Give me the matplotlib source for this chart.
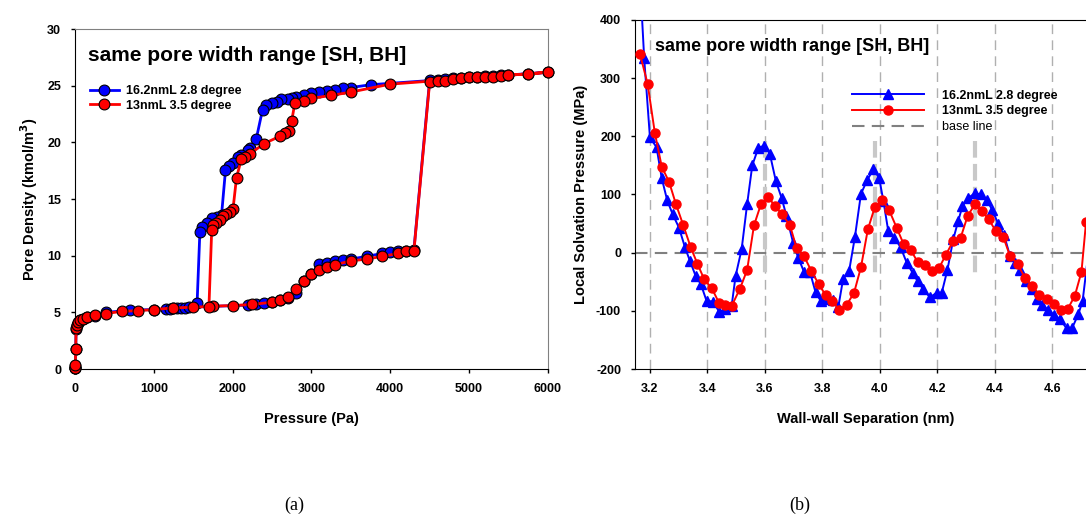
import matplotlib.pyplot as plt
import numpy as np

plt.rcParams['font.family'] = ['Liberation Sans', 'DejaVu Sans']
plt.rcParams['axes.unicode_minus'] = False

# ---------- (a) isotherm data: adsorption then desorption ----------
p_blue = [0, 2, 5, 10, 15, 25, 40, 60, 100, 150, 250, 400, 700, 1000, 1150, 1200,
          1250, 1300, 1350, 1400, 1450, 2200, 2300, 2400, 2500, 2600, 2700, 2800,
          2900, 3000, 3100, 3200, 3300, 3400, 3500, 3700, 3900, 4000, 4100, 4200,
          4300, 4500, 4600, 4700, 4800, 4900, 5000, 5100, 5200, 5300, 5400, 5500,
          5750, 6000,
          3750, 3500, 3400, 3300, 3200, 3100, 3000, 2900, 2800, 2750, 2700, 2620,
          2560, 2500, 2430, 2380, 2300, 2220, 2190, 2110, 2070, 2000, 1960, 1910,
          1860, 1800, 1740, 1670, 1610, 1585, 1550]
rho_blue = [0.05, 0.1, 0.3, 1.8, 3.5, 3.9, 4.1, 4.3, 4.45, 4.55, 4.7, 5.0, 5.2, 5.25,
            5.3, 5.3, 5.35, 5.35, 5.4, 5.4, 5.45, 5.65, 5.75, 5.85, 5.95, 6.1, 6.3,
            6.75, 7.8, 8.4, 9.25, 9.4, 9.55, 9.65, 9.7, 9.95, 10.2, 10.3, 10.4, 10.45,
            10.5, 25.5, 25.55, 25.6, 25.65, 25.7, 25.75, 25.8, 25.85, 25.9, 25.95,
            25.95, 26.05, 26.2,
            25.1, 24.85, 24.8, 24.6, 24.55, 24.5, 24.35, 24.2, 24.0, 23.9, 23.85,
            23.8, 23.6, 23.5, 23.3, 22.9, 20.3, 19.5, 19.3, 18.9, 18.75, 18.2, 17.9,
            17.55, 13.6, 13.4, 13.3, 12.85, 12.55, 12.1, 5.85]

p_red = [0, 2, 5, 10, 15, 25, 40, 60, 100, 150, 250, 400, 600, 800, 1000, 1250,
         1500, 1750, 2000, 2250, 2500, 2600, 2700, 2800, 2900, 3000, 3100, 3200,
         3300, 3500, 3700, 3900, 4100, 4200, 4300, 4500, 4600, 4700, 4800, 4900,
         5000, 5100, 5200, 5300, 5400, 5500, 5750, 6000,
         4000, 3500, 3250, 3000, 2900, 2790, 2750, 2710, 2660, 2600, 2400, 2220,
         2155, 2110, 2050, 2005, 1965, 1920, 1880, 1840, 1790, 1755, 1735, 1700]
rho_red = [0.05, 0.1, 0.35, 1.8, 3.6, 3.9, 4.15, 4.3, 4.45, 4.6, 4.75, 4.9, 5.1,
           5.15, 5.25, 5.4, 5.45, 5.55, 5.6, 5.7, 5.9, 6.05, 6.35, 7.05, 7.8, 8.4,
           8.75, 9.0, 9.2, 9.55, 9.7, 9.95, 10.2, 10.4, 10.4, 25.3, 25.4, 25.45,
           25.6, 25.65, 25.8, 25.8, 25.8, 25.8, 25.9, 25.95, 26.05, 26.2,
           25.15, 24.45, 24.15, 23.9, 23.7, 23.5, 21.9, 21.0, 20.8, 20.55, 19.9,
           19.0, 18.7, 18.5, 16.9, 14.1, 13.9, 13.7, 13.5, 13.15, 12.9, 12.7,
           12.25, 5.5]

# ---------- (b) solvation pressure data ----------
w_blue = [3.16, 3.180, 3.200, 3.223, 3.241, 3.260, 3.279, 3.301, 3.322, 3.339, 3.359,
          3.377, 3.397, 3.420, 3.441, 3.461, 3.484, 3.498, 3.519, 3.538, 3.556,
          3.577, 3.598, 3.617, 3.638, 3.658, 3.675, 3.698, 3.716, 3.736, 3.757,
          3.776, 3.794, 3.817, 3.838, 3.855, 3.872, 3.893, 3.913, 3.934, 3.955,
          3.977, 3.997, 4.012, 4.029, 4.050, 4.072, 4.093, 4.114, 4.131, 4.151,
          4.174, 4.197, 4.215, 4.235, 4.255, 4.272, 4.287, 4.307, 4.330, 4.351,
          4.371, 4.390, 4.411, 4.432, 4.452, 4.470, 4.487, 4.508, 4.528, 4.547,
          4.565, 4.586, 4.605, 4.626, 4.649, 4.669, 4.690, 4.705, 4.735]
s_blue = [520, 334, 198, 181, 128, 90, 66, 43, 9, -14, -40, -54, -83, -84, -102, -97,
          -92, -40, 6, 83, 150, 180, 184, 170, 123, 94, 63, 17, -9, -33, -34, -68,
          -83, -79, -81, -94, -45, -31, 27, 101, 124, 143, 129, 89, 37, 26, 9, -17,
          -35, -49, -63, -77, -69, -69, -29, 23, 54, 80, 94, 102, 100, 91, 74, 50,
          30, -5, -17, -30, -49, -63, -80, -90, -99, -108, -114, -130, -129, -106,
          -83, 40]

w_red = [3.165, 3.192, 3.217, 3.241, 3.267, 3.290, 3.316, 3.342, 3.365, 3.389, 3.415,
         3.440, 3.461, 3.484, 3.513, 3.538, 3.562, 3.586, 3.612, 3.635, 3.658,
         3.687, 3.710, 3.736, 3.761, 3.787, 3.811, 3.834, 3.858, 3.884, 3.910,
         3.934, 3.958, 3.982, 4.008, 4.032, 4.058, 4.083, 4.108, 4.131, 4.157,
         4.180, 4.205, 4.229, 4.255, 4.281, 4.305, 4.330, 4.356, 4.379, 4.403,
         4.429, 4.452, 4.479, 4.504, 4.530, 4.554, 4.580, 4.605, 4.629, 4.653,
         4.678, 4.701, 4.717]
s_red = [342, 290, 206, 148, 121, 84, 47, 9, -19, -46, -61, -86, -90, -92, -62, -30,
         47, 83, 95, 80, 67, 47, 8, -6, -31, -54, -73, -83, -98, -90, -69, -25, 40,
         78, 90, 73, 43, 14, 4, -16, -21, -31, -27, -4, 20, 26, 63, 83, 71, 57, 37,
         27, -5, -20, -43, -57, -72, -80, -88, -99, -97, -74, -33, 53]

peak_x = [3.60, 3.983, 4.33]
grid_x = [3.2, 3.4, 3.6, 3.8, 4.0, 4.2, 4.4, 4.6]

fig = plt.figure(figsize=(10.86, 5.18), dpi=100)
bold = dict(fontweight='bold')

# ---------------- panel (a) ----------------
ax1 = fig.add_axes([0.069, 0.2876, 0.4355, 0.656])
ax1.plot(p_blue, rho_blue, '-o', color='#0000ff', lw=2, ms=7.8, mec='black',
         mew=0.8, label='16.2nmL 2.8 degree', clip_on=False, zorder=3)
ax1.plot(p_red, rho_red, '-o', color='#ff0000', lw=2, ms=7.8, mec='black',
         mew=0.8, label='13nmL 3.5 degree', clip_on=False, zorder=3)
ax1.set_xlim(0, 6000)
ax1.set_ylim(0, 30)
ax1.set_xticks(range(0, 6001, 1000))
ax1.set_yticks(range(0, 31, 5))
for s in ['top', 'right']:
    ax1.spines[s].set_color('#808080')
ax1.tick_params(direction='out', length=3, width=1, pad=7, labelsize=9)
for t in ax1.get_xticklabels() + ax1.get_yticklabels():
    t.set_fontweight('bold')
ax1.set_xlabel('Pressure (Pa)', fontsize=10.5, labelpad=12, **bold)
ax1.set_ylabel('Pore Density (kmol/m$^\\mathbf{3}$)', fontsize=10.5, labelpad=5, **bold)
ax1.text(0.027, 0.924, 'same pore width range [SH, BH]', transform=ax1.transAxes,
         fontsize=15, va='center', ha='left', **bold)
leg1 = ax1.legend(loc='upper left', bbox_to_anchor=(0.032, 0.835), frameon=False,
                  borderpad=0, borderaxespad=0, handlelength=2.3, handletextpad=0.6,
                  labelspacing=0.2, prop=dict(size=9, weight='bold'))

# ---------------- panel (b) ----------------
ax2 = fig.add_axes([0.5847, 0.2876, 0.4241, 0.674])
for gx in grid_x:
    ax2.axvline(gx, color='#b0b0b0', lw=1, ls=(0, (7, 4.5)), zorder=0)
ax2.plot(w_blue, s_blue, '-^', color='#0000ff', lw=1.4, ms=6.5,
         label='16.2nmL 2.8 degree', zorder=3)
ax2.plot(w_red, s_red, '-o', color='#ff0000', lw=1.4, ms=6.5,
         label='13nmL 3.5 degree', zorder=3)
ax2.axhline(0, color='#808080', lw=1.5, ls=(0, (6, 3.5)), label='base line', zorder=1)
for px in peak_x:
    ax2.plot([px, px], [192, -38], color='#c8c8c8', lw=3, ls=(0, (4, 1.5)), zorder=2)
ax2.set_xlim(3.148, 4.75)
ax2.set_ylim(-200, 400)
ax2.set_xticks(grid_x)
ax2.set_xticklabels([f'{v:.1f}' for v in grid_x])
ax2.set_yticks(range(-200, 401, 100))
ax2.tick_params(direction='out', length=3, width=1, pad=7, labelsize=9)
for t in ax2.get_xticklabels() + ax2.get_yticklabels():
    t.set_fontweight('bold')
ax2.set_xlabel('Wall-wall Separation (nm)', fontsize=10.5, labelpad=12, **bold)
ax2.set_ylabel('Local Solvation Pressure (MPa)', fontsize=10.5, labelpad=6, **bold)
ax2.text(0.044, 0.923, 'same pore width range [SH, BH]', transform=ax2.transAxes,
         fontsize=13, va='center', ha='left', **bold)
leg2 = ax2.legend(loc='upper left', bbox_to_anchor=(0.471, 0.8), frameon=False,
                  borderpad=0, borderaxespad=0, handlelength=5.8, handletextpad=1.4,
                  labelspacing=0.3, prop=dict(size=9, weight='bold'))
leg2.get_texts()[2].set_fontweight('normal')

fig.text(294 / 1086, 1 - 505 / 518, '(a)', family='Liberation Serif', fontsize=13,
         ha='center', va='center')
fig.text(800 / 1086, 1 - 505 / 518, '(b)', family='Liberation Serif', fontsize=13,
         ha='center', va='center')

fig.savefig('out.png', dpi=100)
